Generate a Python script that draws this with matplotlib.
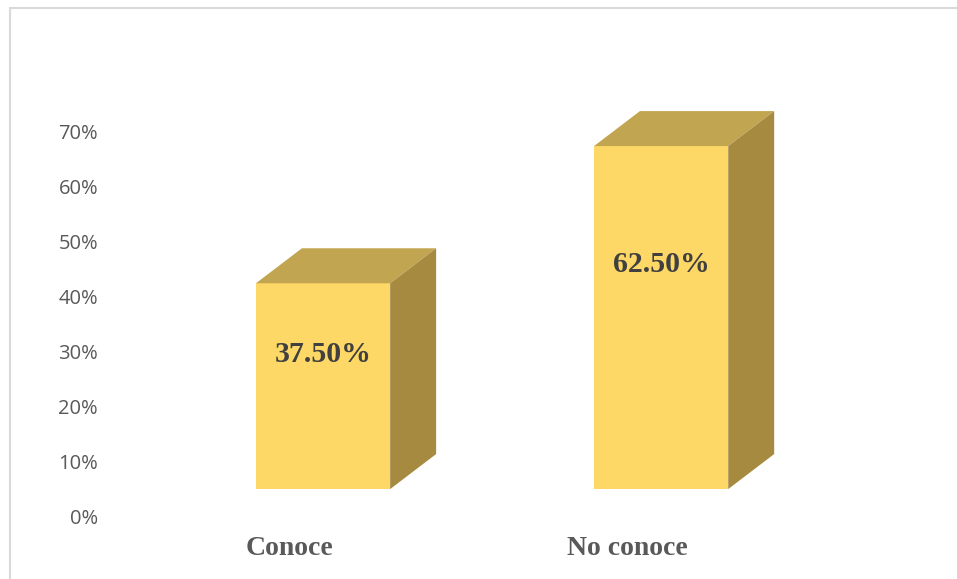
import matplotlib.pyplot as plt
from matplotlib.patches import Polygon, Rectangle

categories = ["Conoce", "No conoce"]
values = [37.5, 62.5]
value_labels = ["37.50%", "62.50%"]
yticks = [0, 10, 20, 30, 40, 50, 60, 70]

front_color = "#FDD866"
top_color = "#C2A550"
side_color = "#A68A40"
text_gray = "#595959"

fig = plt.figure(figsize=(9.57, 5.79), dpi=100)

# outer chart frame (right/bottom edges run off the canvas)
fig.patches.append(Rectangle((10 / 957, -0.05), 1.2, (579 - 8) / 579 + 0.05,
                             transform=fig.transFigure, fill=False,
                             edgecolor="#D9D9D9", linewidth=1.5))

ax = fig.add_axes([105 / 957, 30 / 579, 835 / 957, 540 / 579])
ax.set_xlim(-0.645, 1.825)
ax.set_ylim(-6.0, 92.4)

# 3D look: floor offset, bar width and depth projection
base = 4.92
width = 0.397
dx, dy = 0.136, 6.38

for i, v in enumerate(values):
    x0 = i - width / 2
    x1 = i + width / 2
    top = base + v
    ax.bar(i, v, width=width, bottom=base, color=front_color,
           edgecolor="none", zorder=3)
    ax.add_patch(Polygon([(x0, top), (x1, top), (x1 + dx, top + dy),
                          (x0 + dx, top + dy)], closed=True,
                         facecolor=top_color, edgecolor="none", zorder=3))
    ax.add_patch(Polygon([(x1, base), (x1 + dx, base + dy),
                          (x1 + dx, top + dy), (x1, top)], closed=True,
                         facecolor=side_color, edgecolor="none", zorder=3))
    ax.text(i, base + 0.655 * v, value_labels[i], ha="center", va="center",
            fontsize=21.5, fontweight="bold", family="Liberation Serif",
            color="#404040", zorder=4)
    ax.text(i - 0.1, -5.9, categories[i], ha="center", va="center",
            fontsize=20, fontweight="bold", family="Liberation Serif",
            color=text_gray)

ax.set_yticks(yticks)
ax.set_yticklabels([f"{t}%" for t in yticks], fontsize=14.5,
                   family="Open Sans", color=text_gray)
ax.set_xticks([])
ax.tick_params(axis="y", length=0, pad=5)
for s in ax.spines.values():
    s.set_visible(False)
ax.patch.set_visible(False)

plt.savefig("out.png", dpi=100)
plt.close()
